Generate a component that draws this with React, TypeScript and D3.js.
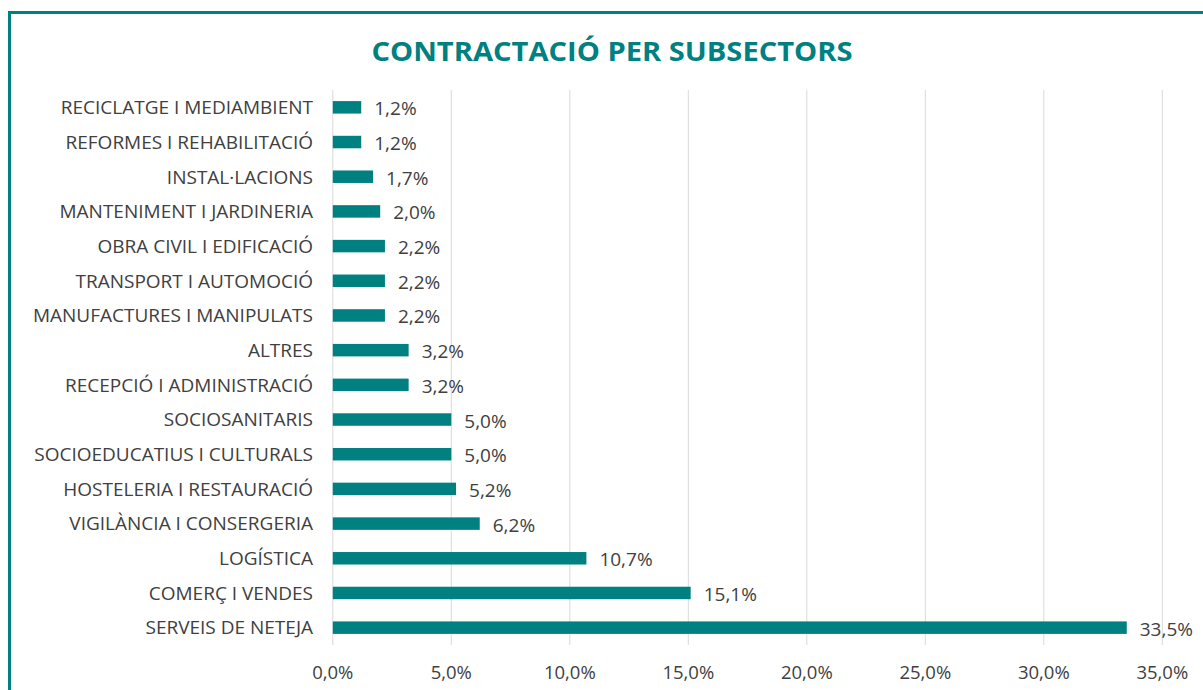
import React from "react";
import * as d3 from "d3";

const categories = [
  "RECICLATGE I MEDIAMBIENT",
  "REFORMES I REHABILITACIÓ",
  "INSTAL·LACIONS",
  "MANTENIMENT I JARDINERIA",
  "OBRA CIVIL I EDIFICACIÓ",
  "TRANSPORT I AUTOMOCIÓ",
  "MANUFACTURES I MANIPULATS",
  "ALTRES",
  "RECEPCIÓ I ADMINISTRACIÓ",
  "SOCIOSANITARIS",
  "SOCIOEDUCATIUS I CULTURALS",
  "HOSTELERIA I RESTAURACIÓ",
  "VIGILÀNCIA I CONSERGERIA",
  "LOGÍSTICA",
  "COMERÇ I VENDES",
  "SERVEIS DE NETEJA",
];
const values = [1.2, 1.2, 1.7, 2.0, 2.2, 2.2, 2.2, 3.2, 3.2, 5.0, 5.0, 5.2, 6.2, 10.7, 15.1, 33.5];
const ticks = [0, 5, 10, 15, 20, 25, 30, 35];
const title = "CONTRACTACIÓ PER SUBSECTORS";

const TEAL = "#008080";
const TEXT = "#404040";
const FONT = "'Open Sans', 'Noto Sans', sans-serif";

const fmt = (v: number) => v.toFixed(1).replace(".", ",") + "%";

export default function App() {
  const W = 1203, H = 690;
  const x = d3.scaleLinear().domain([0, 35]).range([332.8, 1162.3]);
  const y = d3.scaleBand<string>().domain(categories).range([90, 645]).paddingInner(0.64).paddingOuter(0.32);
  return (
    <svg width={W} height={H} style={{ position: "absolute", left: 0, top: 0 }}>
      <rect x={0} y={0} width={W} height={H} fill="#fff" />
      <path d={`M9.5,${H} V12.5 H${W}`} fill="none" stroke={TEAL} strokeWidth={3} />
      <text x={612} y={61} textAnchor="middle" fill={TEAL} fontFamily={FONT} fontWeight={700} fontSize={27}
        textLength={481} lengthAdjust="spacingAndGlyphs">{title}</text>
      {ticks.map((t) => (
        <g key={t}>
          <line x1={x(t)} x2={x(t)} y1={90} y2={645} stroke="#d9d9d9" strokeWidth={1} />
          <text x={x(t)} y={679} textAnchor="middle" fill={TEXT} fontFamily={FONT} fontSize={18.5}>{fmt(t)}</text>
        </g>
      ))}
      {categories.map((c, i) => {
        const yy = y(c)!;
        const bw = y.bandwidth();
        return (
          <g key={c}>
            <rect x={x(0)} y={yy} width={x(values[i]) - x(0)} height={bw} fill={TEAL} />
            <text x={313} y={yy + bw / 2} dy="0.36em" textAnchor="end" fill={TEXT} fontFamily={FONT} fontSize={19}>{c}</text>
            <text x={x(values[i]) + 13} y={yy + bw / 2} dy="0.42em" fill={TEXT} fontFamily={FONT} fontSize={19}>{fmt(values[i])}</text>
          </g>
        );
      })}
    </svg>
  );
}
